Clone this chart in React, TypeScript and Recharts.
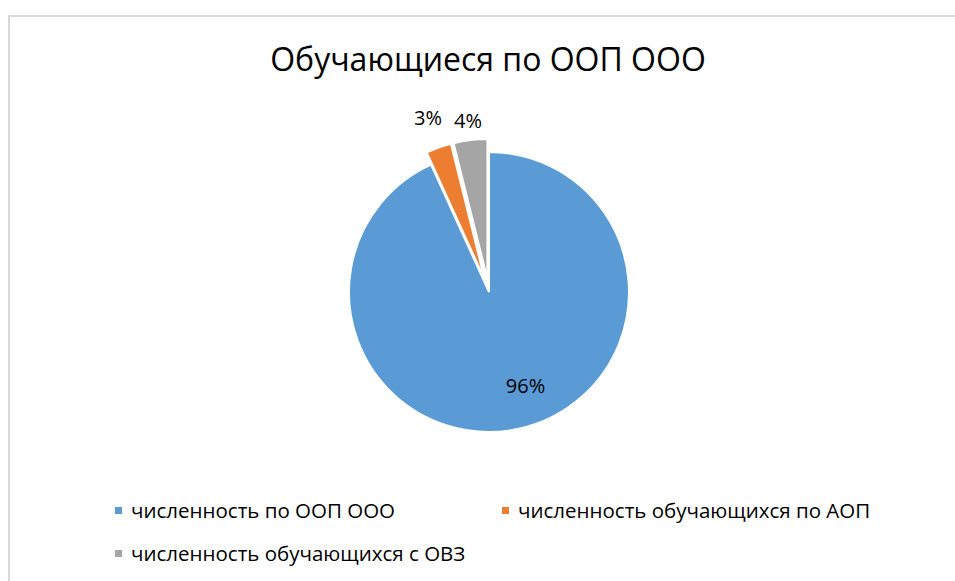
import React from "react";
import { PieChart, Pie, Cell, Sector } from "recharts";

const labels = [
  "численность по ООП ООО",
  "численность обучающихся по АОП",
  "численность обучающихся с ОВЗ",
];
const shares = [96, 3, 4];
const colors = ["#5b9bd5", "#ed7d31", "#a5a5a5"];
const exploded = [false, true, true];

const FONT = "'Open Sans', sans-serif";
const RAD = Math.PI / 180;

const data = labels.map((name, i) => ({ name, value: shares[i] }));

const ExplodedSlice = (props: any) => {
  const { cx, cy, midAngle, index } = props;
  const off = exploded[index] ? 13 : 0;
  const dx = off * Math.cos(-midAngle * RAD);
  const dy = off * Math.sin(-midAngle * RAD);
  return <Sector {...props} cx={cx + dx} cy={cy + dy} />;
};

const renderLabel = (props: any) => {
  const { cx, cy, midAngle, outerRadius, index, value } = props;
  // inside label nudged like Excel's best fit, outside labels above exploded slices
  const ang = index === 0 ? midAngle + 9 : midAngle;
  const r = index === 0 ? outerRadius * 0.72 : outerRadius + (index === 1 ? 45 : 33);
  const x = cx + r * Math.cos(-ang * RAD);
  const y = cy + r * Math.sin(-ang * RAD);
  return (
    <text
      x={x}
      y={y}
      fill="#000"
      fontSize={20}
      fontFamily={FONT}
      textAnchor="middle"
      dominantBaseline="central"
    >
      {value}%
    </text>
  );
};

const legendRows = [
  [0, 1],
  [2],
];

export default function App() {
  if (typeof document !== "undefined") {
    document.body.style.margin = "0";
    document.body.style.overflow = "hidden";
  }
  return (
    <div
      style={{
        position: "relative",
        width: 955,
        height: 581,
        overflow: "hidden",
        background: "#fff",
      }}
    >
      <div
        style={{
          position: "absolute",
          left: 8,
          top: 15,
          width: 1100,
          height: 800,
          border: "2px solid #d9d9d9",
        }}
      />
      <svg
        width={955}
        height={100}
        style={{ position: "absolute", left: 0, top: 0 }}
      >
        <text
          x={488}
          y={71}
          textAnchor="middle"
          fontFamily={FONT}
          fontSize={32}
          fill="#000"
        >
          Обучающиеся по ООП ООО
        </text>
      </svg>
      <div style={{ position: "absolute", left: 0, top: 0 }}>
        <PieChart
          width={955}
          height={581}
          margin={{ top: 0, right: 0, bottom: 0, left: 0 }}
        >
          <Pie
            data={data}
            dataKey="value"
            nameKey="name"
            cx={489}
            cy={292}
            outerRadius={140}
            startAngle={90}
            endAngle={-270}
            stroke="#ffffff"
            strokeWidth={2}
            shape={ExplodedSlice}
            label={renderLabel}
            labelLine={false}
            isAnimationActive={false}
          >
            {data.map((d, i) => (
              <Cell key={d.name} fill={colors[i]} />
            ))}
          </Pie>
        </PieChart>
      </div>
      {legendRows.map((row, r) => (
        <div
          key={r}
          style={{
            position: "absolute",
            left: 115,
            top: 500 + r * 42.5,
            height: 21,
            display: "flex",
            fontFamily: FONT,
            fontSize: 20.5,
            lineHeight: "21px",
            color: "#000",
          }}
        >
          {row.map((i) => (
            <div
              key={i}
              style={{ width: 387, display: "flex", alignItems: "center" }}
            >
              <span
                style={{
                  width: 7,
                  height: 7,
                  background: colors[i],
                  marginRight: 9,
                  display: "inline-block",
                }}
              />
              <span style={{ whiteSpace: "nowrap" }}>{labels[i]}</span>
            </div>
          ))}
        </div>
      ))}
    </div>
  );
}
